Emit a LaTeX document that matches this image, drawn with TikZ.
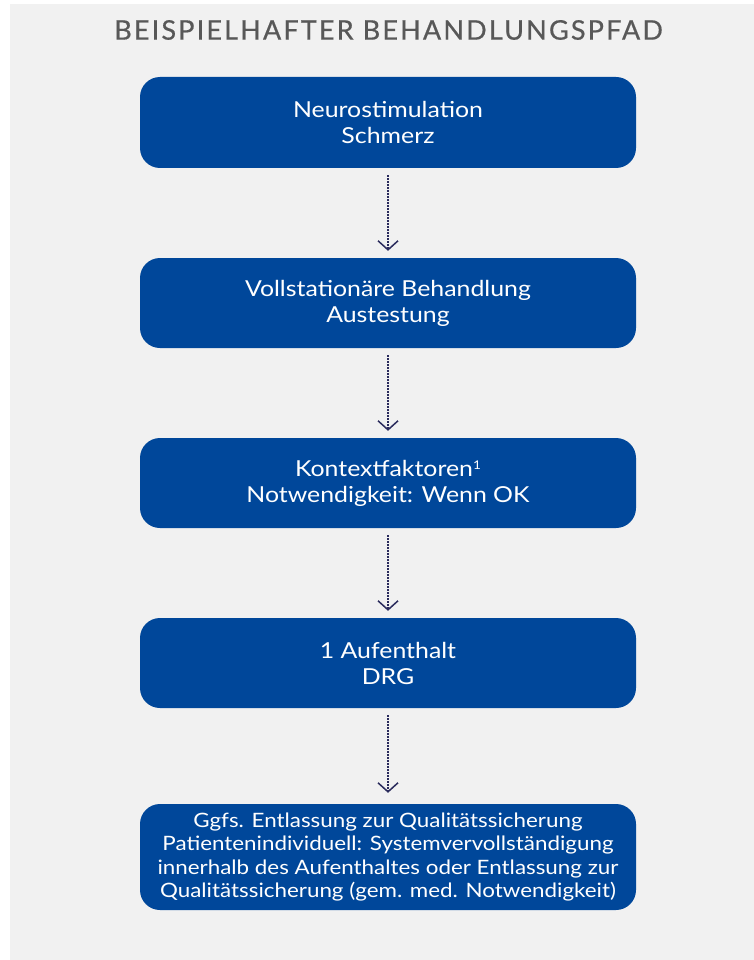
\documentclass[tikz,border=0pt]{standalone}
\usepackage{fontspec}
\setmainfont{Lato}[FakeStretch=1.13]
\newfontfamily\titlefont{Lato}[LetterSpace=8, FakeBold=0.6]
\usetikzlibrary{arrows.meta}
\definecolor{bg}{HTML}{F1F1F1}
\definecolor{boxblue}{HTML}{00479A}
\definecolor{arrowcol}{HTML}{2A2B5C}
\definecolor{titlegray}{HTML}{585858}
\newcommand{\fnmark}[1]{\raisebox{7pt}{\fontsize{12}{12}\selectfont #1}}
\tikzset{
  stepbox/.style={fill=boxblue, rounded corners=20pt, minimum width=496pt, text=white, align=center, inner sep=0pt, font=\fontsize{22}{26}\selectfont},
  flow/.style={draw=arrowcol, line width=1.4pt, dash pattern=on 1.4pt off 1.6pt, -{Straight Barb[length=9pt,width=20pt,line width=1.5pt]}, shorten <=7pt, shorten >=7pt}
}
\begin{document}
\begin{tikzpicture}[x=1pt,y=-1pt]
\useasboundingbox (0,0) rectangle (754,960);
\fill[white] (0,0) rectangle (754,960);
\fill[bg] (10,4) rectangle (754,960);
\node[text=titlegray, font=\titlefont\fontsize{27}{30}\selectfont] (title) at (388.5,30) {BEISPIELHAFTER BEHANDLUNGSPFAD};
\node[stepbox, minimum height=91pt] (b1) at (388,122.5) {Neurostimulation\\Schmerz};
\node[stepbox, minimum height=90pt] (b2) at (388,303) {Vollstationäre Behandlung\\Austestung};
\node[stepbox, minimum height=90pt] (b3) at (388,483) {Kontextfaktoren\fnmark{1}\\Notwendigkeit: Wenn OK};
\node[stepbox, minimum height=90pt] (b4) at (388,663) {1 Aufenthalt\\DRG};
\node[stepbox, minimum height=106pt, font=\fontsize{19.8}{23.5}\selectfont] (b5) at (388,857) {Ggfs. Entlassung zur Qualitätssicherung\\Patientenindividuell: Systemvervollständigung\\innerhalb des Aufenthaltes oder Entlassung zur\\Qualitätssicherung (gem. med. Notwendigkeit)};
\draw[flow] (b1) -- (b2);
\draw[flow] (b2) -- (b3);
\draw[flow] (b3) -- (b4);
\draw[flow, shorten >=11pt] (b4) -- (b5);
\end{tikzpicture}
\end{document}
